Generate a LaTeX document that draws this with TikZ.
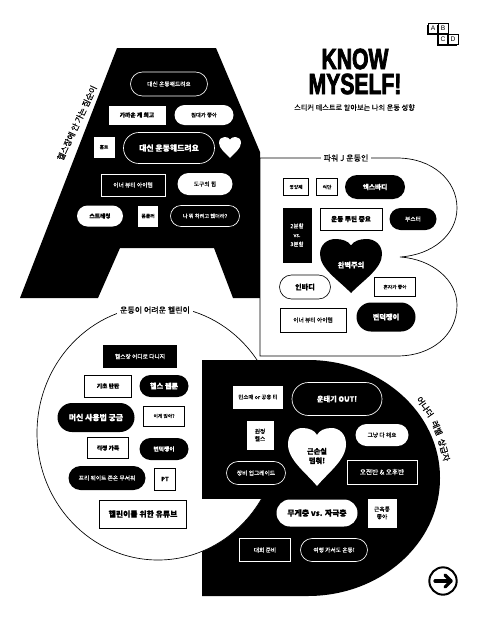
\documentclass[tikz,border=0pt]{standalone}
\usepackage{fontspec}
\setmainfont{Noto Sans CJK KR}[UprightFeatures={FakeBold=0.25},BoldFeatures={FakeBold=0.5}]
\newfontfamily\headfont[FakeStretch=0.72,FakeBold=2.5]{Liberation Sans Bold}
\newfontfamily\logofont{Liberation Sans}
\usetikzlibrary{shapes.misc,shadows}

\begin{document}
\begin{tikzpicture}[x=0.75pt,y=-0.75pt]
  \tikzset{fa/.style={font=\fontsize{3.6}{4.6}\selectfont,align=center}}
  \tikzset{fb/.style={font=\fontsize{4.3}{5.6}\selectfont,align=center}}
  \tikzset{fbb/.style={font=\bfseries\fontsize{4.3}{5.6}\selectfont,align=center}}
  \tikzset{fcb/.style={font=\bfseries\fontsize{5.4}{7}\selectfont,align=center}}
  \tikzset{fdb/.style={font=\bfseries\fontsize{5.9}{7.6}\selectfont,align=center}}
  \tikzset{grouptitle/.style={font=\fontsize{6}{8}\selectfont,fill=white,inner sep=2pt}}
  \tikzset{arctitle/.style={font=\fontsize{6.2}{8}\selectfont,inner sep=0pt}}
  \tikzset{box/.style={rectangle,inner sep=0pt,minimum width=#1}}
  \tikzset{pill/.style={rounded rectangle,inner sep=0pt,minimum width=#1}}
  \tikzset{wfill/.style={fill=white,text=black}}
  \tikzset{kfill/.style={fill=black,text=white}}
  \tikzset{wline/.style={fill=black,draw=white,line width=0.5pt,text=white}}
  \tikzset{kline/.style={fill=white,draw=black,line width=0.5pt,text=black}}
  \tikzset{heartpic/.pic={
    \path[pic actions] (0,1) .. controls (-0.2,0.76) and (-0.5,0.55) .. (-0.5,0.28)
      .. controls (-0.5,0.1) and (-0.38,0) .. (-0.25,0)
      .. controls (-0.14,0) and (-0.04,0.04) .. (0,0.12)
      .. controls (0.04,0.04) and (0.14,0) .. (0.25,0)
      .. controls (0.38,0) and (0.5,0.1) .. (0.5,0.28)
      .. controls (0.5,0.55) and (0.2,0.76) .. (0,1) -- cycle;}}
  \useasboundingbox (0,0) rectangle (480,632);

  % letter A
  \fill[black] (117,48) -- (216,48) -- (260,152) -- (260,298) -- (233,298)
    -- (214,248) -- (120,248) -- (98,298) -- (20,298) -- cycle;
  \node[arctitle,rotate=65] (titleA) at (77,123) {헬스장에 안 가는 짐순이};
  \node[pill=77*0.75pt,minimum height=24*0.75pt,wline,fb] (a1) at (169,84) {대신 운동해드려요};
  \node[box=57*0.75pt,minimum height=19*0.75pt,wfill,fbb] (a2) at (137,115) {가까운 게 최고};
  \node[pill=59*0.75pt,minimum height=20*0.75pt,wfill,fa,font=\fontsize{4}{5}\selectfont] (a3) at (204,115) {침대가 좋아};
  \node[box=21*0.75pt,minimum height=21*0.75pt,wfill,fa] (a4) at (104,147) {홈트};
  \node[pill=91*0.75pt,minimum height=31*0.75pt,wline,fdb] (a5) at (169,148) {대신 운동해드려요};
  \pic[fill=white,xscale=22,yscale=21] at (230,137) {heartpic};
  \node[box=64*0.75pt,minimum height=22*0.75pt,wline,fb] (a6) at (133,185) {이너 뷰티 아이템};
  \node[pill=55*0.75pt,minimum height=22*0.75pt,wfill,fb] (a7) at (205,184) {도구의 힘};
  \node[pill=46*0.75pt,minimum height=21*0.75pt,wfill,fbb] (a8) at (100,216) {스트레칭};
  \node[box=20*0.75pt,minimum height=21*0.75pt,wfill,fa] (a9) at (148,216) {폼롤러};
  \node[pill=69*0.75pt,minimum height=21*0.75pt,wline,fa,font=\fontsize{3.9}{5}\selectfont] (a10) at (205,216) {나 뭐 하려고 했더라?};

  % heading and logo
  \node[font=\headfont\fontsize{22}{18.75}\selectfont,align=center,inner sep=0pt] (head) at (355,71.5) {KNOW\\MYSELF!};
  \node[font=\fontsize{5.4}{6}\selectfont,inner sep=0pt] (sub) at (354.5,107.5) {스티커 테스트로 알아보는 나의 운동 성향};
  \tikzset{logobox/.style={draw=black,fill=white,line width=0.35pt,inner sep=0pt,minimum size=7.2pt,
    font=\logofont\fontsize{5}{5}\selectfont,
    copy shadow={draw=black,fill=white,line width=0.35pt,shadow xshift=-0.9pt,shadow yshift=-0.9pt}}}
  \node[logobox] (la) at (433,28.5) {A};
  \node[logobox] (lb) at (443,28.5) {B};
  \node[logobox] (lc) at (443,39) {C};
  \node[logobox] (ld) at (453,39) {D};

  % letter B
  \draw[black,line width=0.5pt,fill=white] (260,158) -- (397,158)
    .. controls (432,158) and (457,180) .. (457,208)
    .. controls (457,235) and (432,255) .. (400,257)
    .. controls (432,259) and (457,280) .. (457,305)
    .. controls (457,335) and (432,356) .. (397,356)
    -- (260,356) -- cycle;
  \node[grouptitle] (titleB) at (346,158) {파워 J 운동인};
  \node[box=25*0.75pt,minimum height=17*0.75pt,kline,fa] (b1) at (296,187) {영양제};
  \node[box=21*0.75pt,minimum height=17*0.75pt,kline,fa] (b2) at (327,187) {식단};
  \node[pill=60*0.75pt,minimum height=24*0.75pt,kfill,fcb,font=\bfseries\fontsize{5}{6}\selectfont] (b3) at (375,187) {엑스바디};
  \node[box=29*0.75pt,minimum height=55*0.75pt,kfill,font=\fontsize{4.1}{6.8}\selectfont,align=center] (b4) at (297,235) {2분할\\vs.\\3분할};
  \node[box=62*0.75pt,minimum height=22*0.75pt,kline,fbb,font=\bfseries\fontsize{5}{6}\selectfont] (b5) at (351,219) {운동 루틴 중요};
  \node[pill=47*0.75pt,minimum height=22*0.75pt,kfill,fb] (b6) at (413,219) {부스터};
  \pic[fill=black,xscale=62,yscale=54] at (351,239) {heartpic};
  \node[fcb,text=white,inner sep=0pt] (b7) at (351,265) {완벽주의};
  \node[pill=51*0.75pt,minimum height=24*0.75pt,kline,fcb] (b8) at (305,287) {인바디};
  \node[box=41*0.75pt,minimum height=19*0.75pt,kline,fa] (b9) at (395,287) {혼자가 좋아};
  \node[box=66*0.75pt,minimum height=24*0.75pt,kline,fb] (b10) at (313,320) {이너 뷰티 아이템};
  \node[pill=59*0.75pt,minimum height=29*0.75pt,kfill,fcb] (b11) at (386,317) {변덕쟁이};

  % letter C, behind the D
  \draw[black,line width=0.5pt,fill=white] (158,433) ellipse [x radius=121,y radius=127];
  \node[grouptitle] (titleC) at (155,310) {운동이 어려운 헬린이};

  % letter D
  \fill[black] (202,360) -- (308,360) .. controls (380,360) and (440,412) .. (440,478)
    .. controls (440,544) and (380,596) .. (308,596) -- (202,596) -- cycle;
  \begin{scope}
    \clip (202,499) rectangle (282,600);
    \draw[black,line width=0.5pt,fill=white] (158,433) ellipse [x radius=121,y radius=127];
  \end{scope}

  \node[box=74*0.75pt,minimum height=23*0.75pt,kfill,fb] (c1) at (140,356.5) {헬스장 어디로 다니지};
  \node[box=47*0.75pt,minimum height=22*0.75pt,kline,fbb] (c2) at (108,386) {기초 탄탄};
  \node[pill=49*0.75pt,minimum height=22*0.75pt,kfill,fcb] (c3) at (164,386) {헬스 웹툰};
  \node[pill=77*0.75pt,minimum height=29*0.75pt,kfill,fdb] (c4) at (96,417.5) {머신 사용법 궁금};
  \node[box=41*0.75pt,minimum height=20*0.75pt,kline,fa] (c5) at (164,416) {이게 맞아?};
  \node[box=41*0.75pt,minimum height=21*0.75pt,kline,fbb] (c6) at (108,448) {걱정 가득};
  \node[pill=49*0.75pt,minimum height=22*0.75pt,kfill,fbb] (c7) at (164,449) {변덕쟁이};
  \node[pill=77*0.75pt,minimum height=24*0.75pt,kfill,fb] (c8) at (107,478) {프리 웨이트 존은 무서워};
  \node[box=21*0.75pt,minimum height=22*0.75pt,kline,fbb] (c9) at (165,479) {PT};
  \node[box=87*0.75pt,minimum height=28*0.75pt,kline,fdb] (c10) at (143,514) {헬린이를 위한 유튜브};

  \node[arctitle,rotate=-55] (titleD1) at (425,407) {어나더};
  \node[arctitle,rotate=-68] (titleD2) at (437,428) {레벨};
  \node[arctitle,rotate=-75] (titleD3) at (444,450) {상급자};

  \node[box=50*0.75pt,minimum height=23*0.75pt,wfill,fb,font=\fontsize{4.1}{5}\selectfont] (d1) at (258,397) {민소매 or 공용 티};
  \node[pill=90*0.75pt,minimum height=33*0.75pt,wline,fcb] (d2) at (337,399) {운태기 OUT!};
  \node[box=27*0.75pt,minimum height=29*0.75pt,wfill,fb] (d3) at (260,435) {원정\\헬스};
  \pic[fill=white,xscale=58,yscale=58] at (317,428) {heartpic};
  \node[fcb,text=black,inner sep=0pt] (d4) at (317,456) {근손실\\멈춰!};
  \node[pill=53*0.75pt,minimum height=22*0.75pt,wfill,fb] (d5) at (382,435) {그냥 다 해요};
  \node[pill=59*0.75pt,minimum height=23*0.75pt,wline,fb] (d6) at (256,473) {장비 업그레이드};
  \node[box=70*0.75pt,minimum height=24*0.75pt,wline,fb,font=\fontsize{5}{6}\selectfont] (d7) at (382,472) {오전반 \& 오후반};
  \node[pill=81*0.75pt,minimum height=27*0.75pt,wfill,fdb] (d8) at (317,513) {무게충 vs. 자극충};
  \node[box=29*0.75pt,minimum height=29*0.75pt,wfill,fb] (d9) at (382,513) {근육통\\좋아};
  \node[box=51*0.75pt,minimum height=23*0.75pt,wline,fb] (d10) at (265,550) {대회 준비};
  \node[pill=67*0.75pt,minimum height=23*0.75pt,wline,fb] (d11) at (334,550) {여행 가서도 운동!};

  % next button
  \node[circle,draw=black,fill=white,line width=1.5pt,minimum size=20.5pt,inner sep=0pt] (nextbtn) at (443,581) {};
  \coordinate (arrowL) at (435,581);
  \coordinate (arrowR) at (451,581);
  \draw[line width=2.4pt,line join=round,line cap=round] (arrowL) -- (arrowR);
  \draw[line width=2.4pt,line join=round,line cap=round] (445,575) -- (arrowR) -- (445,587);
\end{tikzpicture}
\end{document}
